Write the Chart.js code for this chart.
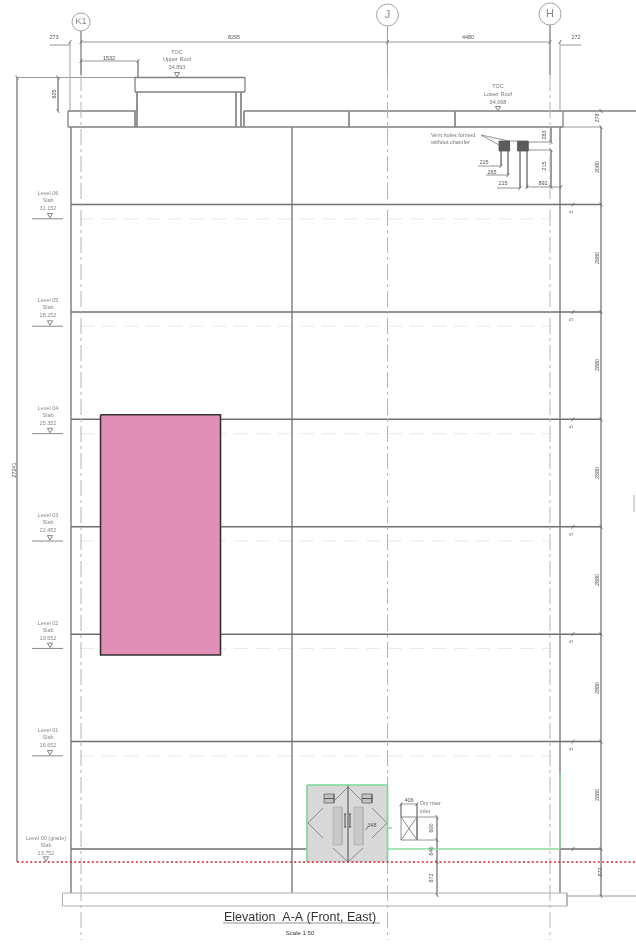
<!DOCTYPE html>
<html>
<head>
<meta charset="utf-8">
<script src="https://cdn.jsdelivr.net/npm/chart.js@4"></script>
<style>
  html, body { margin: 0; padding: 0; background: #fff; }
  canvas { display: block; filter: blur(0.7px); }
</style>
</head>
<body>
<canvas id="myChart" width="636" height="944"></canvas>
<script>
// all drawing values in mm: x from grid K1, y as elevation
const gridX = [0, 8276, 12663];
const gridNames = ["K1", "J", "H"];
const gridBubbleY = [36081, 36270, 36297];
const gridTopY = [35838, 35973, 36000];

const levelNames = ["Level 06", "Level 05", "Level 04", "Level 03", "Level 02", "Level 01", "Level 00 (grade)"];
const levelSlabs = [31152, 28252, 25352, 22452, 19552, 16652, 13752];
const levelValues = ["31.152", "28.252", "25.352", "22.452", "19.552", "16.652", "13.752"];

const roofOutline = [
  [1458, 34583, 4428, 34583], [1458, 34191, 4428, 34191], [1458, 34583, 1458, 34191], [4428, 34583, 4428, 34191],
  [-351, 33678, 1512, 33678], [4401, 33678, 14985, 33678],
  [-351, 33246, 13014, 33246], [-351, 33678, -351, 33246], [13014, 33678, 13014, 33246]
];
const roofPosts = [
  [1512, 34191, 1512, 33246], [1458, 33678, 1458, 33246], [4185, 34191, 4185, 33246], [4320, 34191, 4320, 33246],
  [4401, 33678, 4401, 33246], [7236, 33678, 7236, 33246], [10098, 33678, 10098, 33246]
];
const wallLines = [
  [-270, 33246, -270, 12564], [5697, 33246, 5697, 12564], [12933, 33246, 12933, 12564]
];
const wallUpper = [[-297, 35541, -297, 33678], [12933, 35541, 12933, 33678]];
const foundation = [
  [-500, 12564, 13122, 12564], [-500, 12213, 13122, 12213], [-500, 12564, -500, 12213], [13122, 12564, 13122, 12213]
];
const dimLines = [
  [0, 35541, 12663, 35541], [-850, 35460, -297, 35460], [12933, 35460, 13500, 35460],
  [0, 35028, 1539, 35028], [1539, 35028, 1539, 34583], [0, 35028, 0, 34700],
  [-1728, 34583, 1458, 34583], [-621, 34583, -621, 33678], [-1728, 34583, -1728, 13401],
  [14040, 33246, 14040, 12483], [12933, 33246, 14040, 33246],
  [9612, 14616, 9612, 12510], [9072, 14616, 9612, 14616], [9072, 13995, 9612, 13995],
  [13122, 12483, 14985, 12483], [8640, 14967, 9072, 14967], [8640, 14967, 8640, 14616], [9072, 14967, 9072, 14616],
  [7722, 14319, 8397, 14319]
];
const edgeMark = [[14930, 23310, 14930, 22851]];
const ventDims = [
  [10800, 33030, 11286, 32760], [10800, 33030, 11556, 32868], [11556, 32868, 11785, 32868],
  [12069, 32841, 12690, 32841], [12069, 32625, 12690, 32625], [12690, 33246, 12690, 32841], [12690, 32625, 12690, 31626],
  [11340, 32598, 11340, 32193], [11529, 32598, 11529, 31950], [11853, 32598, 11853, 31599], [12042, 32598, 12042, 31599],
  [10719, 32193, 11340, 32193], [10935, 31950, 11529, 31950], [11232, 31599, 11853, 31599], [12042, 31626, 12960, 31626]
];
const ventBlocks = [
  [11286, 32868, 11570, 32598], [11785, 32868, 12069, 32598]
];
const doorBox = [6102, 15480, 8276, 13401];
const doorSwing = [
  [6534, 14859, 6129, 14454], [6129, 14454, 6534, 14049],
  [7857, 14859, 8262, 14454], [8262, 14454, 7857, 14049],
  [6804, 15021, 7209, 15426], [7209, 15426, 7614, 15021],
  [6804, 13779, 7209, 13401], [7209, 13401, 7614, 13779]
];
const doorPanels = [[6804, 14886, 7047, 13860], [7371, 14886, 7614, 13860]];
const doorVents = [[6561, 15237, 6831, 14994], [7587, 15237, 7857, 14994]];
const doorDark = [
  [7209, 15480, 7209, 13401], [7128, 14697, 7128, 14346], [7263, 14697, 7263, 14346],
  [7100, 14697, 7160, 14697], [7235, 14697, 7295, 14697], [7100, 14346, 7160, 14346], [7235, 14346, 7295, 14346],
  [6561, 15116, 6831, 15116], [7587, 15116, 7857, 15116]
];
const doorGreen = [[6102, 13401, 6102, 15480], [6102, 15480, 8276, 15480], [8276, 15480, 8276, 13401]];
const riserBox = [
  [8640, 14616, 9072, 14616], [9072, 14616, 9072, 13995], [9072, 13995, 8640, 13995], [8640, 13995, 8640, 14616],
  [8640, 14616, 9072, 13995], [9072, 14616, 8640, 13995]
];
const greenLines = [[8276, 13752, 12933, 13752], [12933, 13752, 12933, 15790]];
const pinkBox = [527, 25478, 3767, 18990];
const redLine = [[-1728, 13401, 14985, 13401]];

const ticksUp = [
  [-297, 35541], [0, 35541], [8276, 35541], [12663, 35541], [12933, 35541], [0, 35028], [1539, 35028],
  [8640, 14967], [9072, 14967], [11340, 32193], [11529, 31950], [11853, 31599], [12042, 31626], [12960, 31626], [7722, 14319]
];
const ticksDown = [
  [-621, 34583], [-621, 33678], [-1728, 34583], [14040, 33678], [14040, 33246], [12690, 32841], [12690, 32625], [12690, 31626],
  [9612, 14616], [9612, 13995], [9612, 13401], [9612, 12510], [14040, 12483]
];

const topLabels = [["TOC", 2592, 35271], ["Upper Roof", 2592, 35082], ["34.893", 2592, 34866],
  ["TOC", 11259, 34353], ["Lower Roof", 11259, 34137], ["34.068", 11259, 33921]];
const roofMarks = [[2592, 34677], [11259, 33759]];
const flatDims = [["8295", 4131, 35676], ["4480", 10449, 35676], ["272", 13365, 35676], ["273", -729, 35676], ["1532", 756, 35109],
  ["215", 10881, 32301], ["265", 11097, 32031], ["215", 11394, 31734], ["892", 12474, 31734], ["406", 8856, 15075], ["348", 7857, 14400]];
const upDims = [["825", -729, 34137], ["27241", -1809, 23985], ["278", 13932, 33489], ["2080", 13932, 32166],
  ["283", 12501, 33030], ["215", 12501, 32193],
  ["2880", 13932, 29709], ["2880", 13932, 26820], ["2880", 13932, 23904], ["2880", 13932, 21015], ["2880", 13932, 18099], ["2880", 13932, 15210],
  ["600", 9450, 14319], ["640", 9450, 13698], ["872", 9450, 12969], ["872", 14013, 13131]];
const noteLines = [["Vent holes formed", 9450, 33030], ["without chamfer", 9450, 32841], ["Dry riser", 9153, 14994], ["inlet", 9153, 14778]];
const titleText = "Elevation  A-A (Front, East)";
const scaleText = "Scale 1:50";
const titleAt = [5913, 11889];
const scaleAt = [5913, 11484];
const titleRule = [[3834, 11754, 8073, 11754]];

// segments -> points with gaps between them
function segmentPoints(segments) {
  const points = [];
  segments.forEach(s => {
    points.push({x: s[0], y: s[1]}, {x: s[2], y: s[3]}, {x: NaN, y: NaN});
  });
  return points;
}

function lineSet(segments, color, width, dash) {
  return {
    data: segmentPoints(segments), showLine: true, borderColor: color, borderWidth: width,
    borderDash: dash || [], pointRadius: 0, fill: false, spanGaps: false, tension: 0
  };
}

function boxSet(box, fillColor, lineColor, width) {
  const [x1, y1, x2, y2] = box;
  return {
    data: [{x: x1, y: y1}, {x: x2, y: y1}, {x: x2, y: y2}, {x: x1, y: y2}, {x: x1, y: y1}],
    showLine: true, borderColor: lineColor, borderWidth: width, backgroundColor: fillColor,
    fill: "shape", pointRadius: 0, tension: 0
  };
}

function markSet(points, style, rotation, radius, line, back) {
  return {
    data: points.map(p => ({x: p[0], y: p[1]})), showLine: false, pointStyle: style, pointRotation: rotation,
    pointRadius: radius, pointBorderColor: line, pointBackgroundColor: back || "#fff", pointBorderWidth: 0.9
  };
}

const markerLevels = levelSlabs.slice(0, 6).map(v => v - 385);
const markerShort = markerLevels.map(v => [-1323, v, -486, v]);
const markerDash = markerLevels.map(v => [-27, v, 12663, v]);
const slabLeft = levelSlabs.slice(0, 6).map(v => [-270, v, 14040, v]);
slabLeft.push([-270, 13752, 6102, 13752], [12933, 13752, 14040, 13752]);
const levelMarks = levelSlabs.map((v, i) => [i === 6 ? -945 : -837, i === 6 ? 13500 : v - 280]);
const slabTicks = levelSlabs.map(v => [13284, v]);
const slabTicksEnd = levelSlabs.map(v => [14040, v]);

const datasets = [
  lineSet(markerDash, "#e6e6e6", 0.9, [14, 8]),
  lineSet(markerShort, "#888", 1),
  lineSet(dimLines, "#999", 1),
  lineSet(edgeMark, "#d0d0d0", 1),
  lineSet(wallUpper, "#aaa", 1.1),
  lineSet(wallLines, "#a2a2a2", 2),
  lineSet(foundation, "#b0b0b0", 1),
  lineSet(slabLeft, "#707070", 1.5),
  lineSet(roofOutline, "#808080", 1.3),
  lineSet(roofPosts, "#8a8a8a", 1.8),
  lineSet(ventDims, "#888", 0.9),
  boxSet(ventBlocks[0], "#5c5c5c", "#555", 0.8),
  boxSet(ventBlocks[1], "#5c5c5c", "#555", 0.8),
  boxSet(doorBox, "#d9d9d9", "#d9d9d9", 0.5),
  boxSet(doorPanels[0], "#c8c8c8", "#b0b0b0", 0.8),
  boxSet(doorPanels[1], "#c8c8c8", "#b0b0b0", 0.8),
  boxSet(doorVents[0], "#c2c2c2", "#666", 0.8),
  boxSet(doorVents[1], "#c2c2c2", "#666", 0.8),
  lineSet(doorSwing, "#808080", 0.9),
  lineSet(doorDark, "#555", 1.1),
  lineSet(doorGreen, "#7fd896", 1.7),
  lineSet(greenLines, "#8cd9a0", 1.5),
  lineSet(riserBox, "#808080", 0.9),
  lineSet(gridX.map((x, i) => [x, gridTopY[i], x, 34650]), "#a0a0a0", 1),
  lineSet(gridX.map(x => [x, 34650, x, 11295]), "#b4b4b4", 1, [16, 4, 3, 4]),
  boxSet(pinkBox, "#e28fb8", "#333", 1.6),
  lineSet(redLine, "#d81f2e", 1.5, [2, 2.4]),
  lineSet(titleRule, "#888", 0.9),
  markSet(ticksUp.concat(slabTicks), "line", -55, 2.4, "#666"),
  markSet(ticksDown.concat(slabTicksEnd), "line", 55, 2.4, "#666"),
  markSet(roofMarks.concat(levelMarks), "triangle", 180, 3, "#777"),
  markSet(gridX.map((x, i) => [x, gridBubbleY[i]]), "circle", 0, 0, "#999")
];
// later entries go on top
datasets.forEach((d, i) => { d.order = -i; });
// bubbles have their own sizes
datasets[datasets.length - 1].pointRadius = [9, 11, 11];

const drawingText = {
  id: "drawingText",
  afterDatasetsDraw(chart) {
    const {ctx, scales} = chart;
    const put = (text, x, y, font, color, align, rotate) => {
      ctx.save();
      ctx.translate(scales.x.getPixelForValue(x), scales.y.getPixelForValue(y));
      if (rotate) ctx.rotate(-Math.PI / 2);
      ctx.font = font;
      ctx.fillStyle = color;
      ctx.textAlign = align;
      ctx.textBaseline = "middle";
      ctx.fillText(text, 0, 0);
      ctx.restore();
    };
    const small = '5.5px "Liberation Sans"';
    topLabels.forEach(t => put(t[0], t[1], t[2], small, "#777", "center"));
    flatDims.forEach(t => put(t[0], t[1], t[2], small, "#555", "center"));
    upDims.forEach(t => put(t[0], t[1], t[2], small, "#555", "center", true));
    noteLines.forEach(t => put(t[0], t[1], t[2], small, "#777", "left"));
    levelNames.forEach((name, i) => {
      const x = i === 6 ? -945 : -891;
      const y = levelSlabs[i];
      put(name, x, y + 297, small, "#888", "center");
      put("Slab", x, y + 108, small, "#888", "center");
      put(levelValues[i], x, y - 108, small, "#888", "center");
    });
    levelSlabs.slice(0, 6).forEach(v => put("5", 13230, v - 200, small, "#777", "center", true));
    gridNames.forEach((name, i) => put(name, gridX[i], gridBubbleY[i], i === 0 ? '9px "Liberation Sans"' : '11px "Liberation Sans"', "#888", "center"));
    put(titleText, titleAt[0], titleAt[1], '12.5px "Liberation Sans"', "#333", "center");
    put(scaleText, scaleAt[0], scaleAt[1], '6px "Liberation Sans"', "#333", "center");
  }
};

const ctx = document.getElementById("myChart");
const config = {
  type: "scatter",
  data: {datasets},
  options: {
    responsive: false,
    animation: false,
    events: [],
    layout: {autoPadding: false, padding: 0},
    plugins: {legend: {display: false}, tooltip: {enabled: false}},
    scales: {
      x: {type: "linear", display: false, min: -2187, max: 14985},
      y: {type: "linear", display: false, min: 11187, max: 36675}
    }
  },
  plugins: [drawingText]
};
const myChart = new Chart(ctx, config);
</script>
</body>
</html>
